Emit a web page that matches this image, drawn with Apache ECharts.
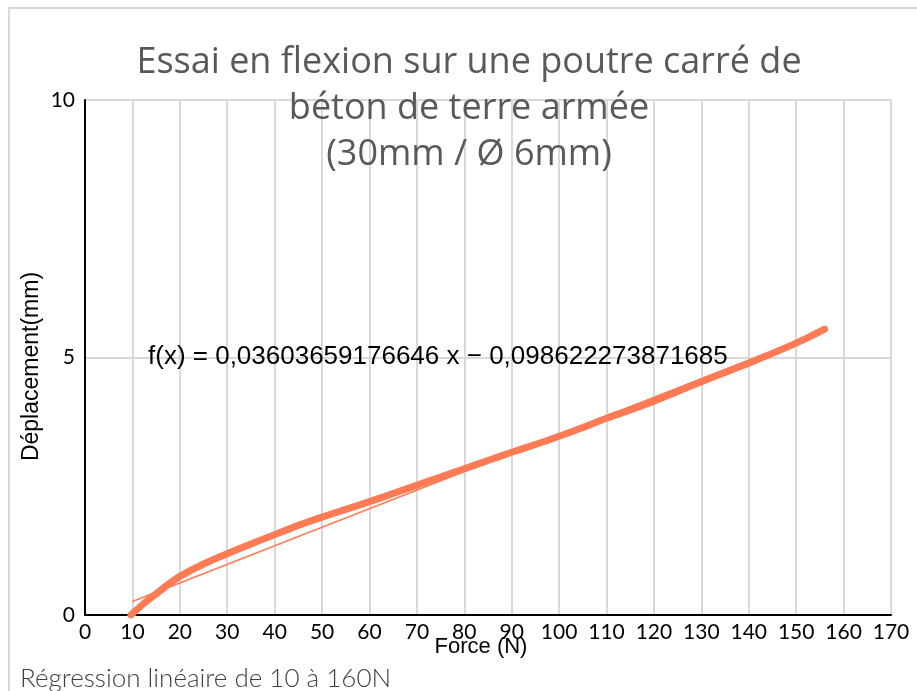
<!DOCTYPE html>
<html>
<head>
<meta charset="utf-8">
<script src="https://cdn.jsdelivr.net/npm/echarts@6/dist/echarts.min.js"></script>
<style>html,body{margin:0;padding:0;background:#fff}#c{width:917px;height:691px}</style>
</head>
<body>
<div id="c"></div>
<script>
const titleLines = ["Essai en flexion sur une poutre carré de", "béton de terre armée", "(30mm / Ø 6mm)"];
const xName = "Force (N)";
const yName = "Déplacement(mm)";
const equationText = "f(x) = 0,03603659176646 x − 0,098622273871685";
const footnote = "Régression linéaire de 10 à 160N";

const force = [9.7, 10.5, 11.5, 12.5, 14, 15, 17.5, 20, 25, 30, 35, 40, 45, 50, 55, 60, 65, 70, 75, 80, 85, 90, 95, 100, 105, 110, 115, 120, 125, 130, 135, 140, 145, 150, 153, 156];
const displacement = [0, 0.07, 0.15, 0.23, 0.34, 0.41, 0.59, 0.75, 0.99, 1.19, 1.38, 1.56, 1.74, 1.9, 2.05, 2.2, 2.36, 2.52, 2.68, 2.84, 3.0, 3.16, 3.31, 3.47, 3.64, 3.82, 3.98, 4.15, 4.34, 4.53, 4.71, 4.89, 5.08, 5.28, 5.41, 5.55];

const trendX = [10, 156];
const trendY = [0.262, 5.523];

const xTicks = [0, 170, 10];
const yTicks = [0, 10, 5];

const color = '#ff7b55';

const chart = echarts.init(document.getElementById('c'));
chart.setOption({
  animation: false,
  backgroundColor: '#ffffff',
  grid: { left: 85, right: 26, top: 100, bottom: 76 },
  xAxis: {
    type: 'value', min: xTicks[0], max: xTicks[1], interval: xTicks[2],
    name: xName, nameLocation: 'middle', nameGap: 21, nameMoveOverlap: false,
    nameTextStyle: { fontFamily: 'Liberation Sans', fontSize: 22, color: '#000', padding: [0, 14, 0, 0] },
    axisLine: { lineStyle: { color: '#000', width: 2 } },
    axisTick: { show: false },
    axisLabel: { fontFamily: 'Lato', fontSize: 21, color: '#000', margin: 7 },
    splitLine: { show: true, lineStyle: { color: '#d9d9d9', width: 2 } }
  },
  yAxis: {
    type: 'value', min: yTicks[0], max: yTicks[1], interval: yTicks[2],
    name: yName, nameLocation: 'middle', nameGap: 42, nameRotate: 90, nameMoveOverlap: false,
    nameTextStyle: { fontFamily: 'Liberation Sans', fontSize: 23, color: '#000', padding: [0, 18, 0, 0] },
    axisLine: { show: true, lineStyle: { color: '#000', width: 2 } },
    axisTick: { show: false },
    axisLabel: { fontFamily: 'Lato', fontSize: 21, color: '#000', margin: 10 },
    splitLine: { show: true, lineStyle: { color: '#d9d9d9', width: 2 } }
  },
  series: [
    {
      type: 'line', data: force.map((f, i) => [f, displacement[i]]),
      showSymbol: false, smooth: 0.3,
      lineStyle: { color: color, width: 7, cap: 'round', join: 'round' },
      z: 3
    },
    {
      type: 'line', data: trendX.map((f, i) => [f, trendY[i]]),
      showSymbol: false,
      lineStyle: { color: color, width: 1.5 },
      z: 4
    }
  ],
  graphic: [
    { type: 'rect', shape: { x: 9, y: 8, width: 930, height: 700 }, style: { fill: 'none', stroke: '#d9d9d9', lineWidth: 2 }, z: 0, silent: true },
    { type: 'text', x: 469, y: 40, style: { text: titleLines.join('\n'), fontFamily: 'Open Sans', fontSize: 36, lineHeight: 46, fill: '#595959', align: 'center', verticalAlign: 'top' }, z: 10 },
    { type: 'text', x: 148, y: 357, style: { text: equationText, fontFamily: 'Liberation Sans', fontSize: 26, fill: '#000', align: 'left', verticalAlign: 'middle' }, z: 10 },
    { type: 'text', x: 20, y: 666, style: { text: footnote, fontFamily: 'Lato', fontWeight: 300, fontSize: 26, fill: '#404040', align: 'left', verticalAlign: 'top' }, z: 10 }
  ]
});
</script>
</body>
</html>
